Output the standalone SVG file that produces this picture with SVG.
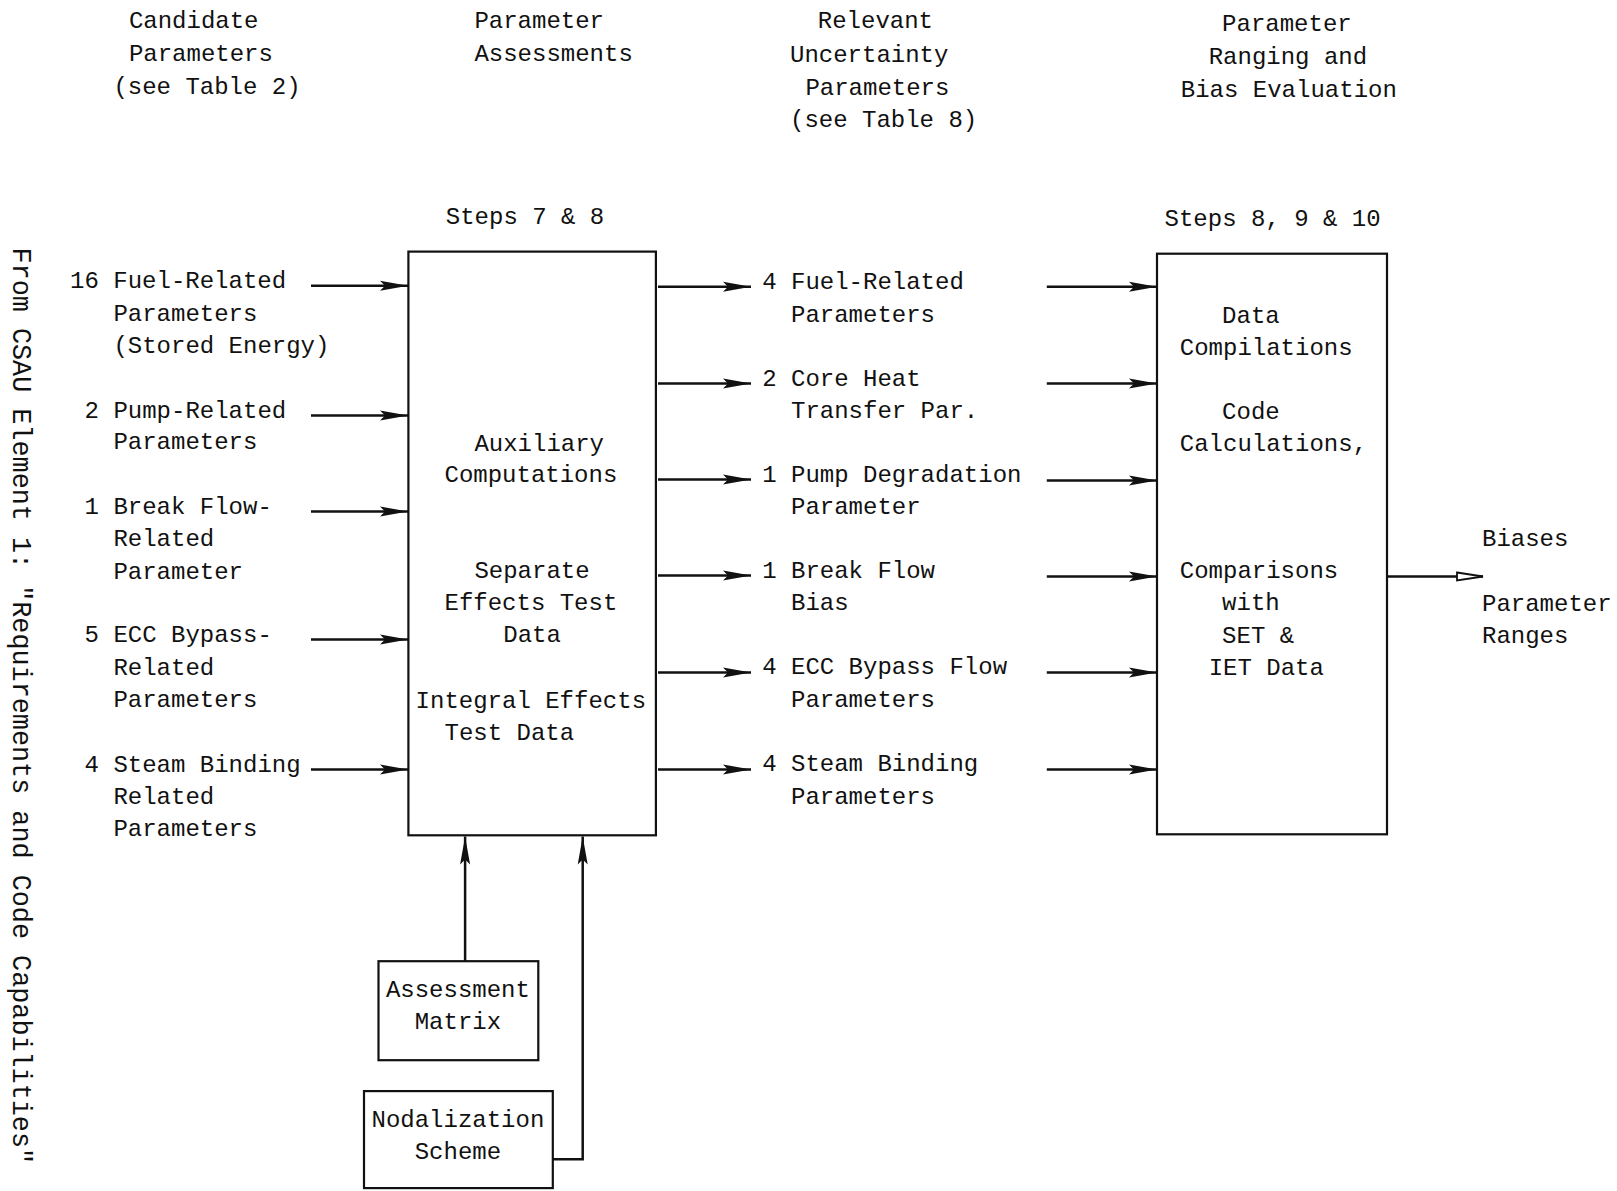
<svg xmlns="http://www.w3.org/2000/svg" width="1617" height="1191" viewBox="0 0 1617 1191">
<style>
text{font-family:"Liberation Mono","DejaVu Sans Mono",monospace;font-size:24px;fill:#111}
.box{fill:none;stroke:#111;stroke-width:2.2}
.ln{fill:none;stroke:#111;stroke-width:2.5}
.mid{text-anchor:middle}
</style>
<defs>
<marker id="ah" markerUnits="userSpaceOnUse" markerWidth="30" markerHeight="14" refX="28" refY="7" orient="auto">
<path d="M0,2 L28,7 L0,12 L5,7 Z" fill="#111"/>
</marker>
<marker id="ao" markerUnits="userSpaceOnUse" markerWidth="30" markerHeight="14" refX="28" refY="7" orient="auto">
<path d="M2,3 L28,7 L2,11 Z" fill="#fff" stroke="#111" stroke-width="1.8"/>
</marker>
</defs>

<g id="headers">
<text x="128.9" y="27.6">Candidate</text>
<text x="128.9" y="60.6">Parameters</text>
<text x="113.4" y="93.6">(see Table 2)</text>
<text x="474.4" y="27.6">Parameter</text>
<text x="474.4" y="60.6">Assessments</text>
<text x="817.8" y="27.6">Relevant</text>
<text x="790" y="61.7">Uncertainty</text>
<text x="805.4" y="94.7">Parameters</text>
<text x="790" y="126.6">(see Table 8)</text>
<text x="1222.1" y="30.7">Parameter</text>
<text x="1208.7" y="63.7">Ranging and</text>
<text x="1180.8" y="96.7">Bias Evaluation</text>
</g>

<g id="side-label">
<text transform="translate(12.5,247.5) rotate(90)" style="font-size:26.8px">From CSAU Element 1: "Requirements and Code Capabilities"</text>
</g>

<g id="candidates">
<text x="70.1" y="287.5">16 Fuel-Related</text>
<text x="113.4" y="320.5">Parameters</text>
<text x="113.4" y="352.5">(Stored Energy)</text>
<text x="84.6" y="417.5">2 Pump-Related</text>
<text x="113.4" y="449.4">Parameters</text>
<text x="84.6" y="514.4">1 Break Flow-</text>
<text x="113.4" y="546.4">Related</text>
<text x="113.4" y="579.4">Parameter</text>
<text x="84.6" y="642.3">5 ECC Bypass-</text>
<text x="113.4" y="675.3">Related</text>
<text x="113.4" y="707.3">Parameters</text>
<text x="84.6" y="772.2">4 Steam Binding</text>
<text x="113.4" y="804.2">Related</text>
<text x="113.4" y="836.2">Parameters</text>
</g>

<g id="assessments">
<text class="mid" x="525" y="223.6">Steps 7 &amp; 8</text>
<rect class="box" x="408.4" y="251.6" width="247.5" height="583.7"/>
<text x="474.4" y="450.5">Auxiliary</text>
<text x="444.5" y="482.4">Computations</text>
<text x="474.4" y="578.3">Separate</text>
<text x="444.5" y="610.3">Effects Test</text>
<text x="503.3" y="642.3">Data</text>
<text x="415.6" y="708.3">Integral Effects</text>
<text x="444.5" y="740.3">Test Data</text>
</g>

<g id="uncertainty">
<text x="762.2" y="288.5">4 Fuel-Related</text>
<text x="791" y="321.5">Parameters</text>
<text x="762.2" y="385.5">2 Core Heat</text>
<text x="791" y="417.5">Transfer Par.</text>
<text x="762.2" y="482.4">1 Pump Degradation</text>
<text x="791" y="514.4">Parameter</text>
<text x="762.2" y="578.3">1 Break Flow</text>
<text x="791" y="610.3">Bias</text>
<text x="762.2" y="674.3">4 ECC Bypass Flow</text>
<text x="791" y="707.3">Parameters</text>
<text x="762.2" y="771.2">4 Steam Binding</text>
<text x="791" y="804.2">Parameters</text>
</g>

<g id="ranging">
<text class="mid" x="1272.6" y="225.6">Steps 8, 9 &amp; 10</text>
<rect class="box" x="1157" y="253.7" width="230" height="580.6"/>
<text x="1222.1" y="322.6">Data</text>
<text x="1179.8" y="354.5">Compilations</text>
<text x="1222.1" y="418.5">Code</text>
<text x="1179.8" y="450.5">Calculations,</text>
<text x="1179.8" y="578.3">Comparisons</text>
<text x="1222.1" y="610.3">with</text>
<text x="1222.1" y="643.3">SET &amp;</text>
<text x="1208.7" y="675.3">IET Data</text>
</g>

<g id="outputs">
<text x="1482" y="546.4">Biases</text>
<text x="1482" y="611.3">Parameter</text>
<text x="1482" y="643.3">Ranges</text>
</g>

<g id="assessment-matrix">
<rect class="box" x="378.5" y="961.2" width="159.8" height="99"/>
<text class="mid" x="457.9" y="997">Assessment</text>
<text class="mid" x="457.9" y="1029">Matrix</text>
</g>

<g id="nodalization">
<rect class="box" x="364" y="1091.1" width="188.8" height="97"/>
<text class="mid" x="457.9" y="1127">Nodalization</text>
<text class="mid" x="457.9" y="1159">Scheme</text>
</g>

<g id="connectors">
<line class="ln" x1="311" y1="285.7" x2="408" y2="285.7" marker-end="url(#ah)"/>
<line class="ln" x1="311" y1="415.6" x2="408" y2="415.6" marker-end="url(#ah)"/>
<line class="ln" x1="311" y1="511.5" x2="408" y2="511.5" marker-end="url(#ah)"/>
<line class="ln" x1="311" y1="639.4" x2="408" y2="639.4" marker-end="url(#ah)"/>
<line class="ln" x1="311" y1="769.4" x2="408" y2="769.4" marker-end="url(#ah)"/>

<line class="ln" x1="658" y1="286.7" x2="751" y2="286.7" marker-end="url(#ah)"/>
<line class="ln" x1="658" y1="383.6" x2="751" y2="383.6" marker-end="url(#ah)"/>
<line class="ln" x1="658" y1="479.6" x2="751" y2="479.6" marker-end="url(#ah)"/>
<line class="ln" x1="658" y1="575.5" x2="751" y2="575.5" marker-end="url(#ah)"/>
<line class="ln" x1="658" y1="672.4" x2="751" y2="672.4" marker-end="url(#ah)"/>
<line class="ln" x1="658" y1="769.4" x2="751" y2="769.4" marker-end="url(#ah)"/>

<line class="ln" x1="1046.8" y1="286.7" x2="1157" y2="286.7" marker-end="url(#ah)"/>
<line class="ln" x1="1046.8" y1="383.6" x2="1157" y2="383.6" marker-end="url(#ah)"/>
<line class="ln" x1="1046.8" y1="480.6" x2="1157" y2="480.6" marker-end="url(#ah)"/>
<line class="ln" x1="1046.8" y1="576.5" x2="1157" y2="576.5" marker-end="url(#ah)"/>
<line class="ln" x1="1046.8" y1="672.4" x2="1157" y2="672.4" marker-end="url(#ah)"/>
<line class="ln" x1="1046.8" y1="769.4" x2="1157" y2="769.4" marker-end="url(#ah)"/>

<line class="ln" x1="1387" y1="576.5" x2="1483" y2="576.5" marker-end="url(#ao)"/>

<line class="ln" x1="465.1" y1="961.2" x2="465.1" y2="836.5" marker-end="url(#ah)"/>
<polyline class="ln" points="552.8,1159.2 582.7,1159.2 582.7,836.5" marker-end="url(#ah)"/>
</g>
</svg>
